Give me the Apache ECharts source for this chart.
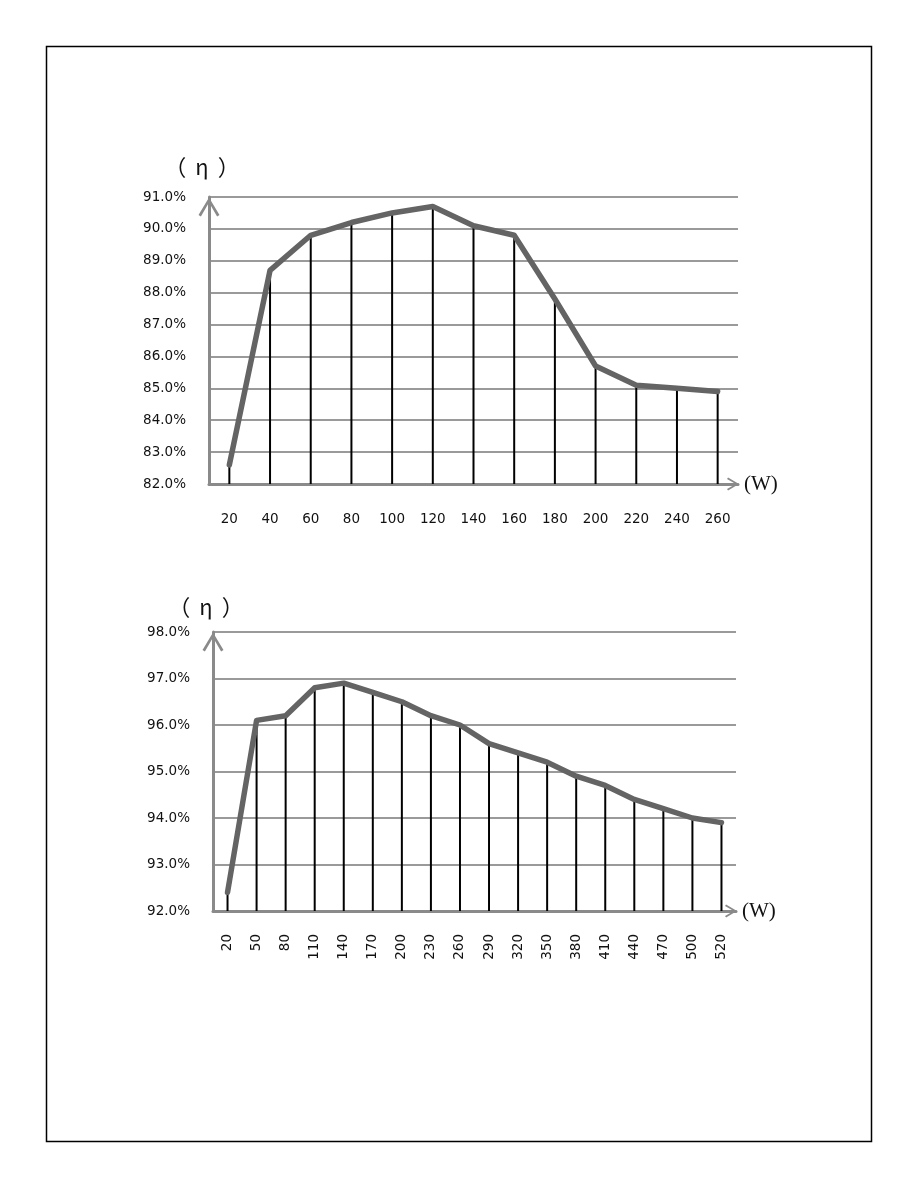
<!DOCTYPE html>
<html>
<head>
<meta charset="utf-8">
<script src="https://cdn.jsdelivr.net/npm/echarts@6/dist/echarts.min.js"></script>
<style>
html,body{margin:0;padding:0;background:#fff;}
#c{width:918px;height:1188px;}
</style>
</head>
<body>
<div id="c"></div>
<script>
// ---- data ----
const cat1 = ['20','40','60','80','100','120','140','160','180','200','220','240','260'];
const eff1 = [82.6, 88.7, 89.8, 90.2, 90.5, 90.7, 90.1, 89.8, 87.8, 85.7, 85.1, 85.0, 84.9];
const yRange1 = [82, 91];

const cat2 = ['20','50','80','110','140','170','200','230','260','290','320','350','380','410','440','470','500','520'];
const eff2 = [92.4, 96.1, 96.2, 96.8, 96.9, 96.7, 96.5, 96.2, 96.0, 95.6, 95.4, 95.2, 94.9, 94.7, 94.4, 94.2, 94.0, 93.9];
const yRange2 = [92, 98];

const yNameParts = ['（', 'η', '）'];
const xName = '(W)';

// ---- styles ----
const axisGray = '#8a8a8a';
const gridGray = '#9a9a9a';
const lineGray = '#646464';
const labelFont = 'DejaVu Sans';
const cjkFont = '"Noto Sans CJK SC", "Noto Sans CJK JP", sans-serif';
const chevron = 'path://M10.5 0 L21 17.5 L18.6 19.2 L10.5 5.2 L2.4 19.2 L0 17.5 Z';

function xAxisCfg(gridIndex, cats, rotate, margin, fs) {
  return {
    type: 'category', gridIndex: gridIndex, data: cats, boundaryGap: true,
    axisTick: {show: false},
    axisLine: {show: true, onZero: false, lineStyle: {color: axisGray, width: 3},
      symbol: ['none', chevron], symbolSize: [21, 12], symbolOffset: [0, -5]},
    axisLabel: {color: '#111', fontSize: fs, fontFamily: labelFont, rotate: rotate, margin: margin, interval: 0},
    name: xName, nameLocation: 'end', nameGap: 6,
    nameTextStyle: {fontFamily: 'Liberation Serif', fontSize: 21, color: '#111', verticalAlign: 'middle'},
    splitLine: {show: false}
  };
}
function yAxisCfg(gridIndex, range) {
  return {
    type: 'value', gridIndex: gridIndex, min: range[0], max: range[1], interval: 1,
    axisLine: {show: true, lineStyle: {color: axisGray, width: 3},
      symbol: ['none', chevron], symbolSize: [21, 20], symbolOffset: [0, -10]},
    axisTick: {show: false},
    axisLabel: {color: '#111', fontSize: 13.5, fontFamily: labelFont, margin: 23,
      formatter: v => v.toFixed(1) + '%'},
    splitLine: {show: true, lineStyle: {color: gridGray, width: 2}}
  };
}
function seriesPair(idx, data) {
  return [
    {type: 'bar', xAxisIndex: idx, yAxisIndex: idx, data: data, barWidth: 2,
      itemStyle: {color: '#000'}, z: 2, silent: true, clip: true},
    {type: 'line', xAxisIndex: idx, yAxisIndex: idx, data: data, showSymbol: false,
      lineStyle: {color: lineGray, width: 5.5, cap: 'round', join: 'round'}, z: 3, silent: true}
  ];
}
function etaLabel(x, y) {
  return {type: 'text', x: x, y: y, style: {
    text: '{p|' + yNameParts[0] + '}{e|' + yNameParts[1] + '}{p|' + yNameParts[2] + '}',
    align: 'center', verticalAlign: 'middle',
    rich: {
      p: {fontFamily: cjkFont, fontSize: 22, fill: '#111', color: '#111'},
      e: {fontFamily: cjkFont, fontSize: 22, fill: '#111', color: '#111', padding: [0, 9, 0, 9]}
    }
  }};
}

const chart = echarts.init(document.getElementById('c'), null, {renderer: 'canvas'});
chart.setOption({
  animation: false,
  backgroundColor: '#fff',
  grid: [
    {left: 209, right: 180, top: 197, bottom: 704},
    {left: 213, right: 182, top: 632, bottom: 277}
  ],
  xAxis: [xAxisCfg(0, cat1, 0, 28, 13.5), xAxisCfg(1, cat2, 90, 23, 13.5)],
  yAxis: [yAxisCfg(0, yRange1), yAxisCfg(1, yRange2)],
  series: [].concat(seriesPair(0, eff1), seriesPair(1, eff2)),
  graphic: [
    {type: 'rect', shape: {x: 46.5, y: 46.5, width: 825, height: 1095},
      style: {fill: 'none', stroke: '#000', lineWidth: 1.5}, z: 100},
    etaLabel(202, 167),
    etaLabel(206, 607)
  ]
});
</script>
</body>
</html>
